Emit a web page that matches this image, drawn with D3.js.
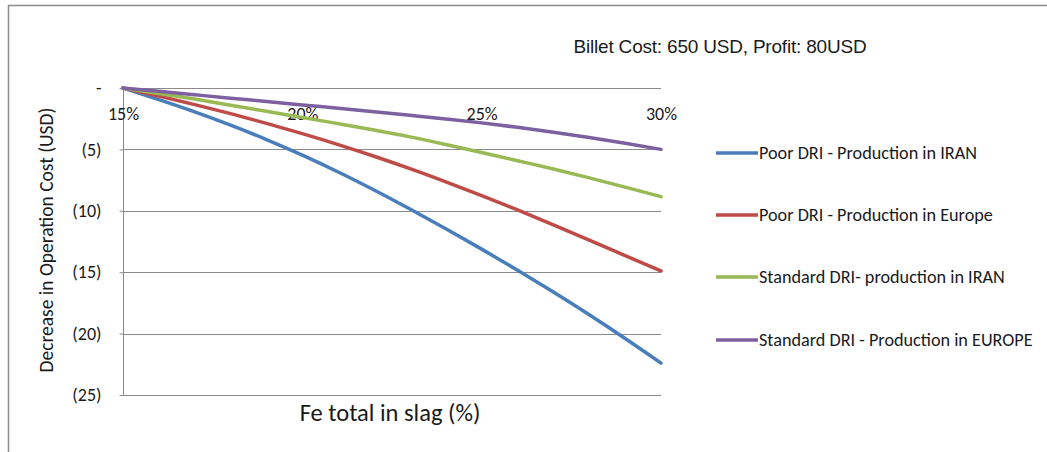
<!DOCTYPE html>
<html>
<head>
<meta charset="utf-8">
<script src="https://cdn.jsdelivr.net/npm/d3@7"></script>
<style>
  html, body { margin: 0; padding: 0; background: #fff; }
  svg { display: block; }
  text { fill: #1a1a1a; }
</style>
</head>
<body>
<svg id="chart" width="1047" height="452"></svg>
<script>
// ---- data ----
const feTotal = [15, 16, 17, 18, 19, 20, 21, 22, 23, 24, 25, 26, 27, 28, 29, 30];
const poorIran    = [0, -0.95, -1.95, -3.03, -4.2, -5.47, -6.84, -8.31, -9.86, -11.46, -13.12, -14.84, -16.62, -18.47, -20.4, -22.4];
const poorEurope  = [0, -0.65, -1.35, -2.09, -2.88, -3.72, -4.61, -5.56, -6.57, -7.64, -8.76, -9.93, -11.14, -12.39, -13.65, -14.9];
const stdIran     = [0, -0.45, -0.9, -1.4, -1.9, -2.4, -2.9, -3.42, -3.98, -4.6, -5.25, -5.92, -6.6, -7.32, -8.07, -8.85];
const stdEurope   = [0, -0.27, -0.55, -0.83, -1.1, -1.38, -1.65, -1.93, -2.22, -2.52, -2.84, -3.2, -3.6, -4.03, -4.5, -5.0];
const seriesNames = ["Poor DRI - Production in IRAN", "Poor DRI - Production in Europe", "Standard DRI- production in IRAN", "Standard DRI - Production in EUROPE"];
const xTicks = [15, 20, 25, 30];
const xTickLabels = ["15%", "20%", "25%", "30%"];
const yTicks = [0, -5, -10, -15, -20, -25];
const yTickLabels = ["-", "(5)", "(10)", "(15)", "(20)", "(25)"];
const chartTitle = "Billet Cost: 650 USD, Profit: 80USD";
const xTitle = "Fe total in slag (%)";
const yTitle = "Decrease in Operation Cost (USD)";

const colors = ["#4a7ebb", "#be4b48", "#98b954", "#7d60a0"];
const allSeries = [poorIran, poorEurope, stdIran, stdEurope];

const svg = d3.select("#chart");
const calibri = "Carlito, Calibri, Lato, 'Open Sans', sans-serif";

// outer frame
svg.append("rect").attr("x", 8.5).attr("y", 5.5).attr("width", 1100).attr("height", 500)
  .attr("fill", "none").attr("stroke", "#8c8c8c").attr("stroke-width", 1.5);

const x = d3.scaleLinear().domain([15, 30]).range([123, 661]);
const y = d3.scaleLinear().domain([0, -25]).range([88, 395]);

// gridlines
svg.append("g").selectAll("line").data(yTicks).join("line")
  .attr("x1", x(15)).attr("x2", x(30))
  .attr("y1", d => Math.round(y(d)) + 0.5).attr("y2", d => Math.round(y(d)) + 0.5)
  .attr("stroke", "#8a8a8a").attr("stroke-width", 1);

// y axis
const yAxis = d3.axisLeft(y).tickValues(yTicks).tickSize(4).tickPadding(18)
  .tickFormat((d, i) => yTickLabels[i]);
const gy = svg.append("g").attr("transform", `translate(${x(15) + 0.5},0)`).call(yAxis);
gy.select(".domain").attr("stroke", "#8a8a8a").attr("d", `M0,${y(0)}V${y(-25)}`);
gy.selectAll(".tick line").attr("stroke", "#8a8a8a");
gy.selectAll(".tick text").attr("font-family", calibri).attr("font-size", 18).attr("fill", "#1a1a1a");

// x axis (labels below zero line)
const xAxis = d3.axisBottom(x).tickValues(xTicks).tickSize(0).tickPadding(19)
  .tickFormat((d, i) => xTickLabels[i]);
const gx = svg.append("g").attr("transform", `translate(0,${y(0)})`).call(xAxis);
gx.select(".domain").remove();
gx.selectAll(".tick text").attr("font-family", calibri).attr("font-size", 18).attr("fill", "#1a1a1a");

// lines
const line = d3.line().x((d, i) => x(feTotal[i])).y(d => y(d)).curve(d3.curveMonotoneX);
svg.append("g").selectAll("path").data(allSeries).join("path")
  .attr("d", d => line(d)).attr("fill", "none")
  .attr("stroke", (d, i) => colors[i]).attr("stroke-width", 3.5)
  .attr("stroke-linejoin", "round").attr("stroke-linecap", "round");

// legend
const legY = [153, 215, 277, 340];
const leg = svg.append("g").selectAll("g").data(seriesNames).join("g")
  .attr("transform", (d, i) => `translate(716,${legY[i]})`);
leg.append("line").attr("x1", 0).attr("x2", 42).attr("y1", 0).attr("y2", 0)
  .attr("stroke", (d, i) => colors[i]).attr("stroke-width", 3.5);
leg.append("text").attr("x", 43).attr("y", 0).attr("dy", "0.35em")
  .attr("font-family", calibri).attr("font-size", 18.2).text(d => d);

// titles
svg.append("text").attr("x", 720).attr("y", 53).attr("text-anchor", "middle")
  .attr("font-family", "'Liberation Sans', Arial, sans-serif").attr("font-size", 19)
  .attr("letter-spacing", -0.2).text(chartTitle);
svg.append("text").attr("x", 390).attr("y", 421).attr("text-anchor", "middle")
  .attr("font-family", calibri).attr("font-size", 24.5).text(xTitle);
svg.append("text").attr("transform", "translate(53,240) rotate(-90)").attr("text-anchor", "middle")
  .attr("font-family", calibri).attr("font-size", 19.5).text(yTitle);
</script>
</body>
</html>
